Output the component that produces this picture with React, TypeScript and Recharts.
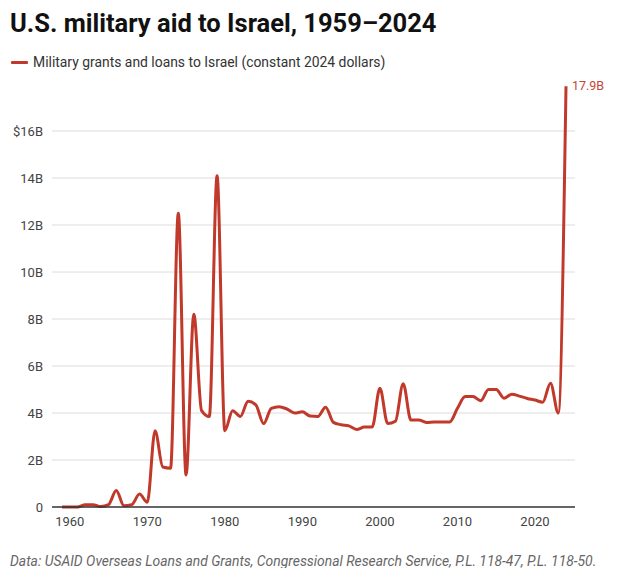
import { CartesianGrid, Line, LineChart, XAxis, YAxis } from "recharts";

const years = [
  1959, 1960, 1961, 1962, 1963, 1964, 1965, 1966, 1967, 1968, 1969, 1970, 1971, 1972, 1973, 1974,
  1975, 1976, 1977, 1978, 1979, 1980, 1981, 1982, 1983, 1984, 1985, 1986, 1987, 1988, 1989, 1990,
  1991, 1992, 1993, 1994, 1995, 1996, 1997, 1998, 1999, 2000, 2001, 2002, 2003, 2004, 2005, 2006,
  2007, 2008, 2009, 2010, 2011, 2012, 2013, 2014, 2015, 2016, 2017, 2018, 2019, 2020, 2021, 2022,
  2023, 2024,
];

// billions of constant 2024 dollars
const aid = [
  0, 0, 0, 0.1, 0.1, 0.02, 0.1, 0.7, 0.05, 0.1, 0.55, 0.2, 3.25, 1.7, 1.65, 12.5,
  1.36, 8.2, 4.1, 3.85, 14.1, 3.25, 4.1, 3.85, 4.5, 4.35, 3.55, 4.2, 4.27, 4.17, 4.0, 4.05,
  3.87, 3.85, 4.25, 3.6, 3.5, 3.45, 3.3, 3.4, 3.4, 5.05, 3.55, 3.65, 5.25, 3.7, 3.7, 3.6,
  3.62, 3.62, 3.62, 4.2, 4.7, 4.7, 4.52, 5.0, 5.0, 4.63, 4.8, 4.72, 4.62, 4.55, 4.46, 5.27,
  4.0, 17.9,
];

const xTicks = [1960, 1970, 1980, 1990, 2000, 2010, 2020];
const yTicks = [0, 2, 4, 6, 8, 10, 12, 14, 16];

const data = years.map((year, i) => ({ year, aid: aid[i] }));

const RED = "#c0392b";
const FONT = "Roboto, 'Noto Sans', sans-serif";

const formatY = (v: number) => (v === 0 ? "0" : v === 16 ? "$16B" : `${v}B`);

function EndLabel(props: any) {
  const { x, y, index } = props;
  if (index !== data.length - 1) return null;
  return (
    <text x={x + 6} y={y} dy={4} fontSize={12.5} fill="#c2453a" fontFamily={FONT}>
      {`${aid[index]}B`}
    </text>
  );
}

export default function App() {
  return (
    <div
      style={{
        position: "absolute",
        left: 0,
        top: 0,
        width: 619,
        height: 568,
        background: "#fff",
        fontFamily: FONT,
        overflow: "hidden",
      }}
    >
      <div
        style={{
          position: "absolute",
          left: 10,
          top: 8,
          fontSize: 25.5,
          fontWeight: 700,
          color: "#111",
          whiteSpace: "nowrap",
        }}
      >
        U.S. military aid to Israel, 1959–2024
      </div>
      <div
        style={{
          position: "absolute",
          left: 11,
          top: 54,
          fontSize: 13.9,
          color: "#333",
          display: "flex",
          alignItems: "center",
          whiteSpace: "nowrap",
        }}
      >
        <span style={{ width: 17, height: 3, background: RED, marginRight: 5, borderRadius: 1 }} />
        Military grants and loans to Israel (constant 2024 dollars)
      </div>
      <LineChart
        width={619}
        height={568}
        data={data}
        margin={{ top: 84, right: 44, bottom: 0, left: 0 }}
        style={{ position: "absolute", left: 0, top: 0 }}
      >
        <CartesianGrid
          vertical={false}
          stroke="#dcdcdc"
          horizontalValues={yTicks.filter((t) => t > 0)}
        />
        <XAxis
          dataKey="year"
          type="number"
          domain={[1959, 2024]}
          ticks={xTicks}
          padding={{ left: 10, right: 9 }}
          tickLine={false}
          tickSize={0}
          tickMargin={10}
          axisLine={{ stroke: "#333", strokeWidth: 1.5 }}
          tick={{ fontSize: 13, fill: "#444", fontFamily: FONT }}
          height={61}
        />
        <YAxis
          type="number"
          domain={[0, 18]}
          ticks={yTicks}
          tickFormatter={formatY}
          width={52}
          tickLine={false}
          tickSize={0}
          tickMargin={9}
          axisLine={false}
          tick={{ fontSize: 13, fill: "#444", fontFamily: FONT }}
        />
        <Line
          type="monotone"
          dataKey="aid"
          stroke={RED}
          strokeWidth={3}
          dot={false}
          isAnimationActive={false}
          label={EndLabel}
        />
      </LineChart>
      <div
        style={{
          position: "absolute",
          left: 10,
          top: 553,
          fontSize: 13.9,
          fontStyle: "italic",
          color: "#666",
          whiteSpace: "nowrap",
        }}
      >
        Data: USAID Overseas Loans and Grants, Congressional Research Service, P.L. 118-47, P.L. 118-50.
      </div>
    </div>
  );
}
